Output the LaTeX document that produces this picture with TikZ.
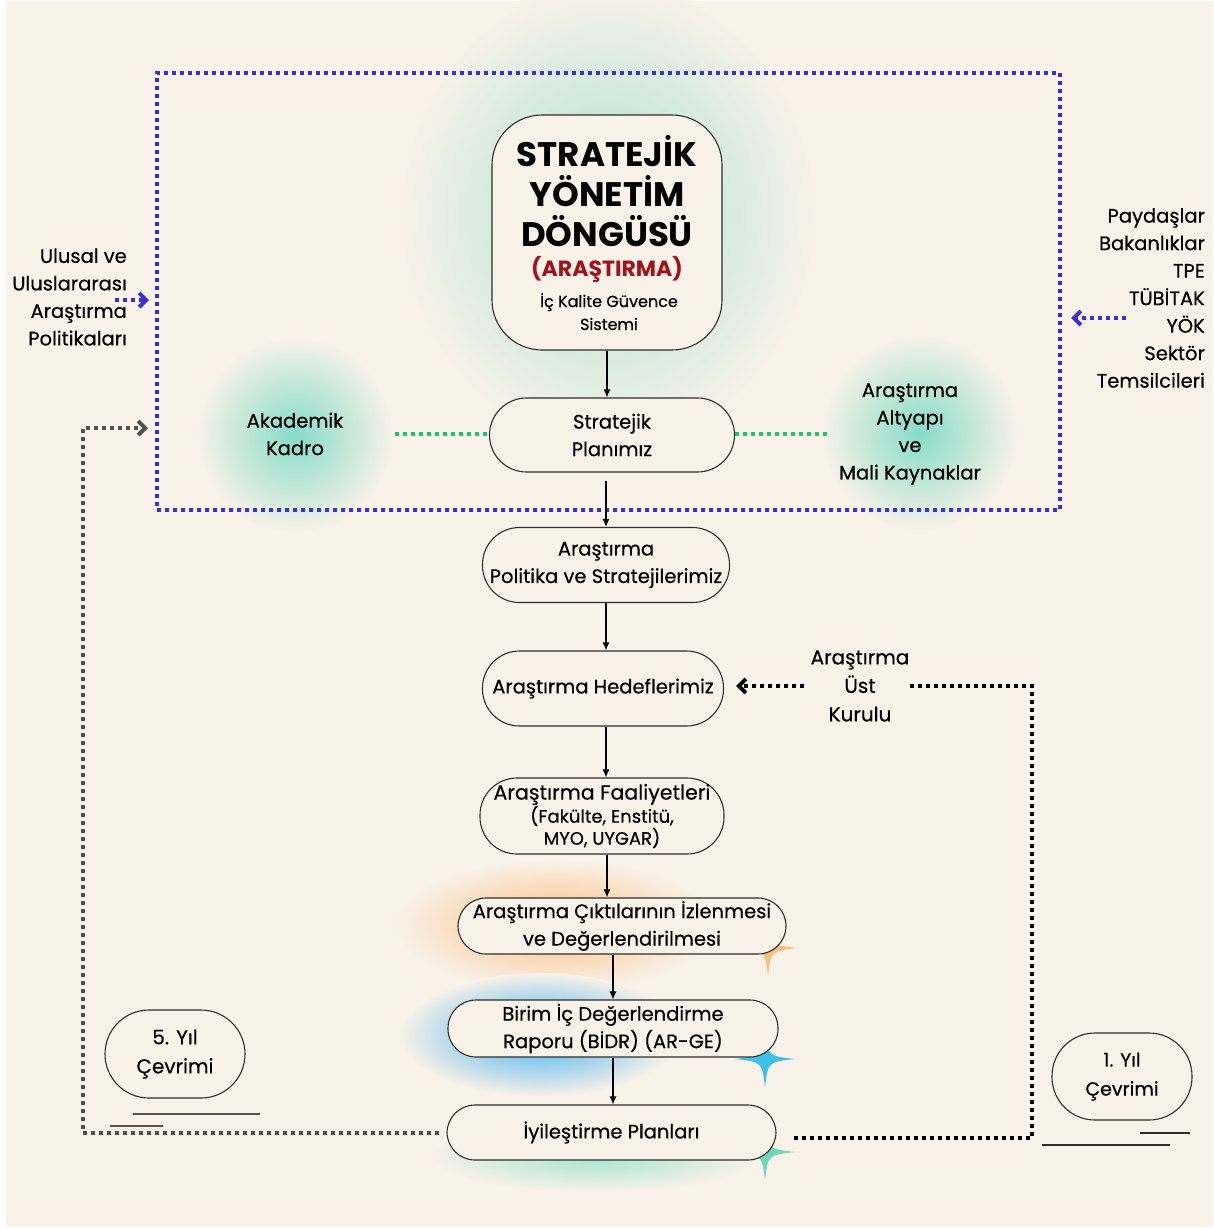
\documentclass[tikz,border=0pt]{standalone}
\usepackage{fontspec}
\setmainfont{Poppins}[UprightFeatures={FakeBold=0.4}]
\usetikzlibrary{arrows.meta,calc}
\definecolor{cream}{HTML}{F9F2E9}
\definecolor{boxline}{HTML}{2E2E2E}
\definecolor{bluedot}{HTML}{3A2FD2}
\definecolor{greendot}{HTML}{1FC467}
\definecolor{graydot}{HTML}{505050}
\definecolor{titlered}{HTML}{A3121A}
\definecolor{glowteal}{HTML}{86DCC7}
\definecolor{glowtitle}{HTML}{A8E2CF}
\definecolor{gloworange}{HTML}{FBBE80}
\definecolor{glowblue}{HTML}{3FAEF2}
\definecolor{glowgreen}{HTML}{A2E5CF}
\definecolor{sporange}{HTML}{F8C07A}
\definecolor{spblue}{HTML}{3EC1E6}
\definecolor{spteal}{HTML}{6FD6B8}
\newcommand\bodyf{\fontsize{19.5}{27.5}\selectfont}
\newcommand\smallf{\fontsize{16}{22}\selectfont}
\newcommand\titlef{\fontsize{34}{40}\selectfont\bfseries}
\tikzset{
  box/.style={draw=boxline, fill=cream, line width=1.1pt, inner sep=0pt, align=center, font=\bodyf, text=black},
  lbl/.style={inner sep=0pt, align=center, font=\bodyf, text=black},
  arr/.style={-{Latex[length=8pt,width=7pt]}, line width=1.3pt, black},
  dotline/.style={line width=4pt, dash pattern=on 4pt off 4pt},
  chev/.style={-{Straight Barb[length=7pt,width=14pt]}},
  sparkle/.pic={\fill (30,0) .. controls (3,3) .. (0,28) .. controls (-3,3) .. (-30,0) .. controls (-3,-3) .. (0,-28) .. controls (3,-3) .. (30,0);}
}
\begin{document}
\begin{tikzpicture}[x=1pt,y=-1pt]
\useasboundingbox (0,0) rectangle (1213,1229);
\fill[white] (0,0) rectangle (1213,1229);
\fill[cream] (6,1) rectangle (1213,1227);

% glows
\shade[inner color=glowtitle, outer color=cream] (608,215) ellipse [x radius=210pt, y radius=235pt];
\shade[inner color=glowteal, outer color=cream] (295,435) circle (98pt);
\shade[inner color=glowteal, outer color=cream] (920,433) circle (98pt);
\shade[inner color=gloworange, outer color=cream] (555,925) ellipse [x radius=160pt, y radius=66pt];
\shade[inner color=glowblue, outer color=cream] (540,1035) ellipse [x radius=140pt, y radius=62pt];
\shade[inner color=glowgreen, outer color=cream] (595,1155) ellipse [x radius=165pt, y radius=38pt];

% sparkles
\pic[fill=sporange] at (768,948) {sparkle};
\pic[fill=spblue] at (765,1059) {sparkle};
\pic[fill=spteal] at (765,1152) {sparkle};

% frame
\node[draw=bluedot, dotline, minimum width=903pt, minimum height=437pt, inner sep=0pt] (frame) at (608.5,291.5) {};

% title box
\node[box, rounded corners=50pt, minimum width=230pt, minimum height=235pt] (title) at (607,232.5) {};
\node[anchor=base, inner sep=0pt, font=\titlef] (t1) at (607,166) {STRATEJİK};
\node[anchor=base, inner sep=0pt, font=\titlef] (t2) at (607,206) {YÖNETİM};
\node[anchor=base, inner sep=0pt, font=\titlef] (t3) at (607,246) {DÖNGÜSÜ};
\node[anchor=base, inner sep=0pt, font=\fontsize{22}{26}\selectfont\bfseries, text=titlered] (t4) at (607,276) {(ARAŞTIRMA)};
\node[anchor=base, inner sep=0pt, font=\smallf] (t5) at (609,307) {İç Kalite Güvence};
\node[anchor=base, inner sep=0pt, font=\smallf] (t6) at (609,330) {Sistemi};

% flow boxes
\node[box, rounded corners=37pt, minimum width=245pt, minimum height=74pt] (sp) at (612,435) {Stratejik\\Planımız};
\node[box, rounded corners=37pt, minimum width=247pt, minimum height=75pt] (pol) at (606,565) {Araştırma\\Politika ve Stratejilerimiz};
\node[box, rounded corners=37pt, minimum width=241pt, minimum height=75pt] (hed) at (603,688.5) {Araştırma Hedeflerimiz};
\node[box, rounded corners=37pt, minimum width=244pt, minimum height=76pt, font=\fontsize{18}{22}\selectfont] (faa) at (602,816) {{\fontsize{20.5}{22}\selectfont Araştırma Faaliyetleri}\\(Fakülte, Enstitü,\\MYO, UYGAR)};
\node[box, rounded corners=28pt, minimum width=328pt, minimum height=56pt] (cik) at (622,926) {Araştırma Çıktılarının İzlenmesi\\ve Değerlendirilmesi};
\node[box, rounded corners=28pt, minimum width=330pt, minimum height=57pt] (bir) at (613,1028.5) {Birim İç Değerlendirme\\Raporu (BİDR) (AR-GE)};
\node[box, rounded corners=28pt, minimum width=329pt, minimum height=55pt] (iyi) at (611.5,1132.5) {İyileştirme Planları};

% cycle nodes
\node[box, fill=none, rounded corners=44pt, minimum width=140pt, minimum height=88pt, font=\fontsize{20}{29}\selectfont] (y5) at (175,1054) {5. Yıl\\Çevrimi};
\node[box, fill=none, rounded corners=43pt, minimum width=140pt, minimum height=87pt, font=\fontsize{19}{29}\selectfont] (y1) at (1122,1076.5) {1. Yıl\\Çevrimi};
\draw[graydot, line width=1.5pt] (133,1114) -- (260,1114);
\draw[graydot, line width=1.5pt] (110,1126) -- (163,1126);
\draw[boxline, line width=1.5pt] (1140,1133) -- (1190,1133);
\draw[boxline, line width=1.5pt] (1042,1145) -- (1170,1145);

% side labels
\node[lbl, minimum width=200pt] (ak) at (295,434) {Akademik\\Kadro};
\node[lbl, minimum width=164pt] (alt) at (910,434) {Araştırma\\Altyapı\\ve\\Mali Kaynaklar};
\node[lbl, align=right, anchor=east] (ulu) at (127,297) {Ulusal ve\\Uluslararası\\Araştırma\\Politikaları};
\node[lbl, align=right, anchor=east] (pay) at (1205,298) {Paydaşlar\\Bakanlıklar\\TPE\\TÜBİTAK\\YÖK\\Sektör\\Temsilcileri};
\node[lbl, font=\fontsize{20}{28.5}\selectfont] (ust) at (860,686) {Araştırma\\Üst\\Kurulu};

% solid arrows
\draw[arr] (title.south) -- (title.south |- sp.north);
\draw[arr] (pol.north |- sp.south) ++(0,8) -- (pol.north);
\draw[arr] (pol.south) -- (pol.south |- hed.north);
\draw[arr] (hed.south -| pol.south) -- (faa.north -| pol.south);
\draw[arr] (faa.south -| title.south) -- (cik.north -| title.south);
\draw[arr] (bir.north |- cik.south) -- (bir.north);
\draw[arr] (bir.south) -- (bir.south |- iyi.north);

% dotted connectors
\draw[greendot, dotline] (ak.east) -- (ak.east -| sp.west);
\draw[greendot, dotline] (sp.east |- alt.west) -- (alt.west);

\coordinate (ua) at (115,300);
\draw[bluedot, dotline, chev, shorten >=6pt] (ua) -- (ua -| frame.west);
\coordinate (pa) at (1126,318);
\draw[bluedot, dotline, chev, shorten >=9pt] (pa) -- (pa -| frame.east);

\coordinate (gc) at (83,428);
\draw[graydot, dotline, chev, shorten >=7pt] ([xshift=-7pt]iyi.west) -| (gc) -- (gc -| frame.west);

\coordinate (bc) at (1032,686);
\draw[black, dotline] ([xshift=17pt,yshift=-5pt]iyi.east) -| (bc) -- (ust.east);
\draw[black, dotline, chev, shorten >=12pt] ([xshift=-6pt]ust.west) -- (ust.west -| hed.east);
\end{tikzpicture}
\end{document}
